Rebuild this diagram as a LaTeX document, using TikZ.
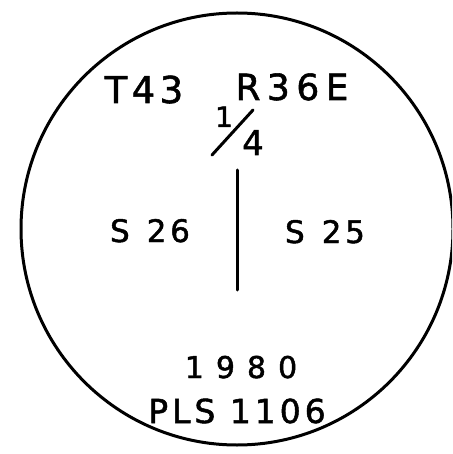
\documentclass[tikz,border=0pt]{standalone}
\usepackage{fontspec}
\newfontfamily\hand[LetterSpace=12,FakeBold=1.5]{DejaVu Sans}
\newfontfamily\handmid[LetterSpace=18,FakeBold=1.5]{DejaVu Sans}
\newfontfamily\handwide[LetterSpace=40,FakeBold=1.5]{DejaVu Sans}
\begin{document}
\begin{tikzpicture}[x=1pt,y=-1pt,
  ink/.style={line width=3pt,line cap=round,black},
  lbl/.style={anchor=base,inner sep=0pt,text=black},
]
\useasboundingbox (0,0) rectangle (452,454);
\fill[white] (0,0) rectangle (452,454);
\begin{scope}
\clip (0,0) rectangle (452,454);
\draw[ink] (237,229) circle (216);
\end{scope}
\node[lbl,font={\hand\fontsize{37}{37}\selectfont}] (twp) at (144,103) {T43};
\node[lbl,font={\handmid\fontsize{36}{36}\selectfont}] (rng) at (292,100) {R36E};
\node[lbl,font={\hand\fontsize{28}{28}\selectfont}] (num) at (224,127) {1};
\node[lbl,font={\hand\fontsize{34}{34}\selectfont}] (den) at (253,155) {4};
\coordinate (sa) at (212,155);
\coordinate (sb) at (253,110);
\draw[ink] (sa) -- (sb);
\coordinate (vt) at (237,170);
\coordinate (vb) at (237,290);
\draw[ink] (vt) -- (vb);
\node[lbl,font={\hand\fontsize{31}{31}\selectfont}] (s26) at (150,242) {S\hspace{17pt}26};
\node[lbl,font={\hand\fontsize{31}{31}\selectfont}] (s25) at (325,243) {S\hspace{17pt}25};
\node[lbl,font={\handwide\fontsize{30}{30}\selectfont}] (yr) at (241,378) {1980};
\node[lbl,font={\hand\fontsize{33}{33}\selectfont}] (pls) at (237,423) {PLS 1106};
\end{tikzpicture}
\end{document}
